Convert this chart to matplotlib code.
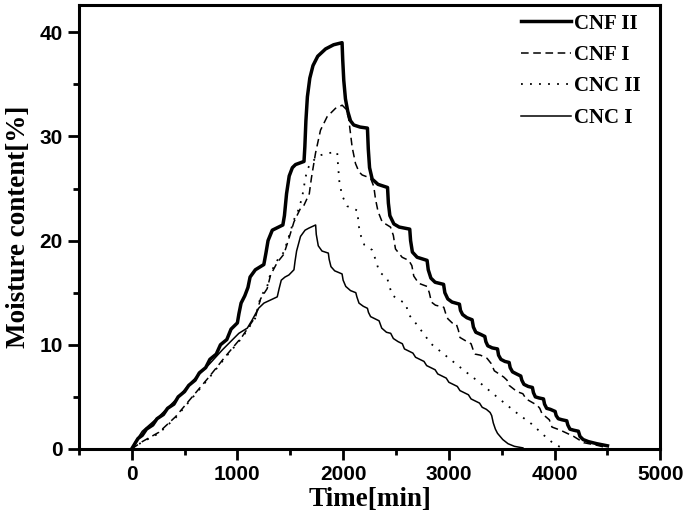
import matplotlib
matplotlib.use('Agg')
import matplotlib.pyplot as plt
from matplotlib.ticker import MultipleLocator

# values (time in min, moisture content in %)
cnf2_t = [0, 60, 100, 140, 200, 240, 300, 340, 400, 440, 500, 540, 600, 640, 700,
          740, 800, 840, 900, 940, 1000, 1015, 1035, 1070, 1100, 1120, 1170, 1250,
          1270, 1290, 1330, 1430, 1445, 1465, 1490, 1520, 1550, 1630, 1638, 1648,
          1662, 1685, 1715, 1760, 1834, 1910, 1990,
          1996, 2006, 2022, 2044, 2070, 2100, 2160, 2230, 2238, 2250, 2275, 2330,
          2420, 2428, 2442, 2480, 2530, 2630, 2638, 2655, 2700, 2794, 2805, 2830,
          2870, 2950, 2962, 2990, 3030, 3100, 3110, 3130, 3170, 3220, 3232, 3255,
          3300, 3340, 3350, 3368, 3410, 3460, 3470, 3492, 3530, 3570, 3580, 3602,
          3640, 3680, 3690, 3710, 3750, 3790, 3800, 3818, 3850, 3895, 3905, 3925,
          3960, 4005, 4015, 4035, 4070, 4115, 4125, 4145, 4180, 4225, 4240, 4270,
          4320, 4400, 4500]
cnf2_m = [0, 1.0, 1.3, 1.9, 2.3, 2.9, 3.3, 3.9, 4.3, 5.0, 5.5, 6.1, 6.6, 7.3, 7.8,
          8.6, 9.1, 10.0, 10.5, 11.5, 12.1, 13.0, 14.0, 14.7, 15.5, 16.5, 17.2, 17.7,
          18.8, 20.0, 21.0, 21.5, 22.4, 24.5, 26.2, 27.0, 27.3, 27.6, 29.0, 31.5,
          33.8, 35.6, 36.8, 37.7, 38.4, 38.8, 39.0,
          37.4, 35.4, 33.6, 32.4, 31.5, 31.1, 30.9, 30.8, 28.8, 27.0, 25.9, 25.4,
          25.1, 23.6, 22.4, 21.6, 21.3, 21.1, 20.0, 18.9, 18.4, 18.1, 17.2, 16.4,
          16.0, 15.8, 15.0, 14.4, 14.1, 13.9, 13.3, 12.9, 12.6, 12.4, 11.7, 11.2,
          11.0, 10.8, 10.3, 9.9, 9.7, 9.6, 9.0, 8.6, 8.4, 8.3, 7.8, 7.4,
          7.2, 7.0, 6.6, 6.2, 6.0, 5.9, 5.4, 5.0, 4.9, 4.8, 4.3, 3.9,
          3.8, 3.6, 3.2, 2.9, 2.8, 2.7, 2.3, 1.9, 1.8, 1.7, 1.2, 0.9,
          0.7, 0.5, 0.3]

cnf1_t = [0, 100, 258, 416, 573, 731, 888, 1046, 1172, 1219, 1282, 1314, 1377, 1440,
          1487, 1535, 1597, 1630, 1680, 1700, 1739, 1786, 1849, 1928, 1991,
          2030, 2054, 2085, 2117, 2150, 2180, 2259, 2290, 2306, 2330, 2369, 2448, 2475,
          2495, 2558, 2621, 2650, 2668, 2715, 2794, 2815, 2835, 2873, 2952, 2970,
          2990, 3031, 3070, 3090, 3105, 3172, 3210, 3230, 3250, 3299, 3361, 3400,
          3430, 3519, 3550, 3570, 3645, 3700, 3730, 3834, 3860, 3880, 3950, 3975,
          4055, 4181, 4275, 4401, 4460]
cnf1_m = [0, 0.7, 1.6, 3.1, 5.0, 6.9, 8.9, 10.8, 12.7, 14.4, 15.4, 16.7, 17.9, 18.7,
          20.2, 21.8, 23.1, 23.4, 24.5, 26.0, 28.4, 30.6, 31.9, 32.7, 33.0,
          32.6, 31.6, 29.0, 27.4, 26.6, 26.3, 26.0, 25.2, 24.0, 22.8, 21.8, 21.3, 20.5,
          19.2, 18.4, 18.1, 17.6, 16.6, 15.9, 15.6, 15.0, 14.1, 13.8, 13.6, 13.0,
          12.5, 12.1, 12.0, 11.4, 10.7, 10.3, 10.1, 9.5, 9.1, 9.0, 8.7, 8.2,
          7.5, 6.9, 6.6, 6.1, 5.5, 5.3, 4.8, 4.2, 3.9, 3.4, 2.8, 2.1,
          1.8, 1.2, 0.6, 0.35, 0.2]

cnc2_t = [0, 90, 258, 416, 573, 731, 888, 1046, 1172, 1219, 1282, 1314, 1377, 1440,
          1487, 1535, 1580, 1613, 1630, 1645, 1665, 1692, 1740, 1786, 1860, 1944,
          1952, 1965, 1991, 2040, 2133, 2150, 2170, 2200, 2274, 2306, 2330, 2353, 2416,
          2440, 2460, 2526, 2590, 2621, 2700, 2831, 2989, 3148, 3300, 3466, 3623,
          3782, 3900, 3992, 4060]
cnc2_m = [0, 0.6, 1.5, 3.0, 4.9, 6.8, 8.8, 10.7, 12.6, 14.6, 15.6, 16.9, 18.1, 18.9,
          20.4, 22.0, 23.0, 24.2, 25.2, 26.1, 26.9, 27.4, 27.9, 28.2, 28.4, 28.5,
          27.2, 25.6, 24.3, 23.3, 22.9, 21.3, 20.4, 19.6, 19.1, 18.2, 17.4, 16.9, 16.4,
          15.6, 14.8, 14.3, 14.0, 12.9, 11.9, 10.1, 8.8, 7.5, 6.3, 4.9, 3.6,
          2.4, 1.3, 0.5, 0.15]

cnc1_t = [0, 30, 101, 258, 416, 573, 731, 857, 1014, 1094, 1141, 1200, 1251, 1377,
          1395, 1415, 1450, 1487, 1535, 1545, 1560, 1597, 1640, 1676, 1740,
          1746, 1765, 1800, 1860, 1868, 1885, 1920, 1990, 2000, 2025, 2070, 2120,
          2130, 2150, 2190, 2230, 2240, 2260, 2300, 2340, 2365, 2410, 2450, 2475,
          2520, 2560, 2580, 2620, 2660, 2685, 2725, 2765, 2790, 2830, 2870, 2895,
          2935, 2975, 3000, 3040, 3080, 3105, 3145, 3185, 3210, 3250, 3290, 3315,
          3355, 3390, 3405, 3420, 3440, 3460, 3510, 3560, 3620, 3700]
cnc1_m = [0, 0.6, 1.7, 3.1, 4.7, 6.5, 8.1, 9.5, 11.1, 11.6, 12.4, 13.5, 14.0, 14.6,
          15.4, 16.2, 16.5, 16.7, 17.2, 18.0, 19.0, 20.4, 21.0, 21.2, 21.5,
          20.6, 19.5, 19.0, 18.8, 18.2, 17.5, 17.1, 16.8, 16.2, 15.6, 15.2, 15.0,
          14.6, 14.0, 13.7, 13.5, 13.1, 12.7, 12.5, 12.3, 11.6, 11.2, 11.1, 10.6,
          10.3, 10.1, 9.6, 9.4, 9.2, 8.8, 8.6, 8.4, 8.0, 7.8, 7.6, 7.2,
          7.0, 6.8, 6.4, 6.2, 6.0, 5.6, 5.4, 5.2, 4.8, 4.6, 4.4, 4.0,
          3.8, 3.5, 3.2, 2.5, 1.9, 1.5, 0.9, 0.5, 0.25, 0.1]

serif = ['Liberation Serif', 'DejaVu Serif']
sans = ['Liberation Sans', 'DejaVu Sans']

fig = plt.figure(figsize=(6.85, 5.19), dpi=100)
ax = fig.add_axes([0.115, 0.135, 0.849, 0.855])

ax.plot(cnf2_t, cnf2_m, color='black', lw=2.5, ls='-', label='CNF II', solid_joinstyle='round')
ax.plot(cnf1_t, cnf1_m, color='black', lw=1.1, ls=(0, (5, 3)), label='CNF I')
ax.plot(cnc2_t, cnc2_m, color='black', lw=1.3, ls=(0, (1, 4)), label='CNC II')
ax.plot(cnc1_t, cnc1_m, color='black', lw=1.1, ls='-', label='CNC I')

ax.set_xlim(-500, 5000)
ax.set_ylim(0, 42.6)
ax.xaxis.set_major_locator(MultipleLocator(1000))
ax.xaxis.set_minor_locator(MultipleLocator(500))
ax.yaxis.set_major_locator(MultipleLocator(10))
ax.yaxis.set_minor_locator(MultipleLocator(5))
ax.tick_params(which='major', direction='out', length=8, width=2, top=False, right=False)
ax.tick_params(which='minor', direction='out', length=4.5, width=2, top=False, right=False)
for sp in ax.spines.values():
    sp.set_linewidth(2.2)

for lab in ax.get_xticklabels() + ax.get_yticklabels():
    lab.set_family(sans)
    lab.set_fontweight('bold')
    lab.set_fontsize(15)

ax.set_xlabel('Time[min]', family=serif, fontweight='bold', fontsize=19.5, labelpad=2)
ax.set_ylabel('Moisture content[%]', family=serif, fontweight='bold', fontsize=19.5, labelpad=6)

leg = ax.legend(loc='upper right', frameon=False, handlelength=2.4, handletextpad=0.15,
                labelspacing=0.55, borderaxespad=0.0, bbox_to_anchor=(0.98, 1.0),
                prop={'family': serif, 'weight': 'bold', 'size': 15})

fig.savefig('out.png', dpi=100)
